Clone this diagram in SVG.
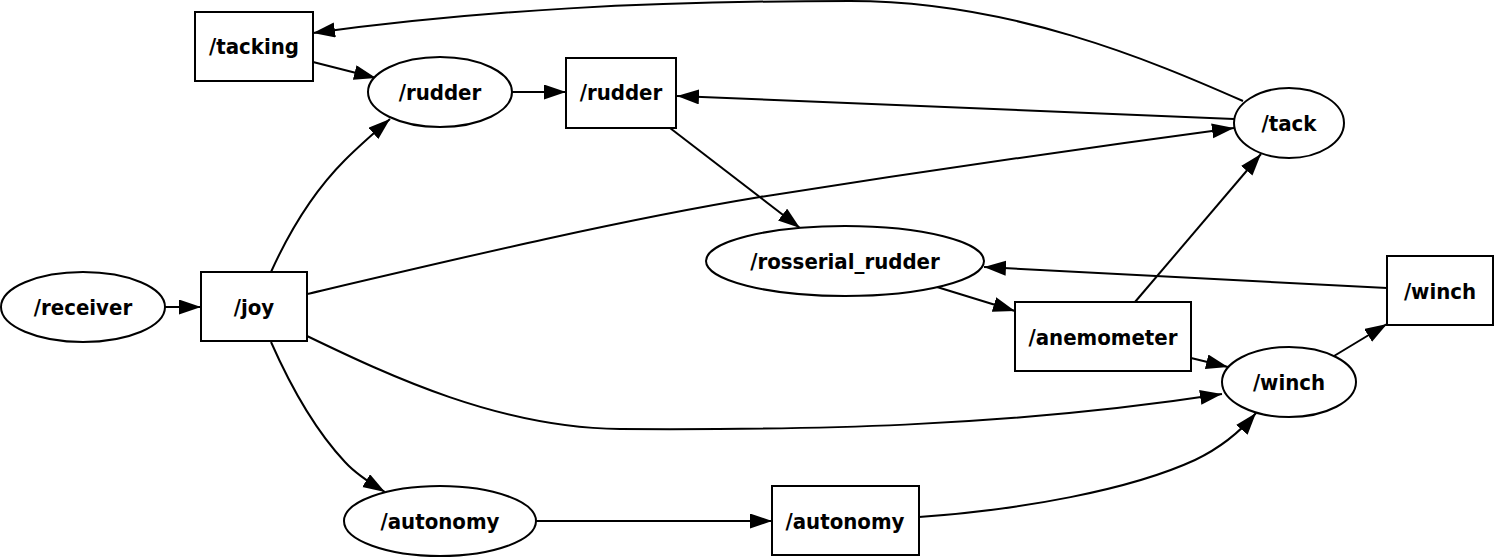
<svg xmlns="http://www.w3.org/2000/svg" width="1494" height="557" viewBox="0 0 1494 557">
<defs>
<marker id="ah" markerUnits="userSpaceOnUse" markerWidth="22" markerHeight="16" refX="22" refY="7.5" orient="auto"><path d="M0,0 L22,7.5 L0,15 z" fill="#000"/></marker>
<style>
.n{fill:#fff;stroke:#000;stroke-width:2}
.t{font-family:"DejaVu Sans Condensed","DejaVu Sans",sans-serif;font-stretch:condensed;font-weight:bold;font-size:22px;text-anchor:middle;fill:#000}
.e{fill:none;stroke:#000;stroke-width:2;marker-end:url(#ah)}
</style>
</defs>
<rect width="1494" height="557" fill="#fff"/>
<g id="edges">
<path class="e" d="M165,307 L201,307"/>
<path class="e" d="M1243,101 C1150,60 1010,1 850,1 C650,1 480,10 313,33"/>
<path class="e" d="M313,62 L376,78"/>
<path class="e" d="M511,92 L566,92"/>
<path class="e" d="M1234,119 L677,96"/>
<path class="e" d="M307,294 C460,258 620,220 760,197 C900,175 1100,146 1234,128"/>
<path class="e" d="M271,272 C290,230 315,190 345,160 C360,145 375,132 390,119"/>
<path class="e" d="M271,342 C290,385 315,430 345,462 C355,473 370,483 385,492"/>
<path class="e" d="M307,336 C390,376 500,428 620,429 C800,430 1000,428 1222,394"/>
<path class="e" d="M670,128 L800,228"/>
<path class="e" d="M1387,288 L984,267"/>
<path class="e" d="M937,287 L1015,311"/>
<path class="e" d="M1135,302 L1261,154"/>
<path class="e" d="M1191,358 L1228,367"/>
<path class="e" d="M1334,356 L1387,324"/>
<path class="e" d="M536,521 L772,521"/>
<path class="e" d="M919,517 C1020,510 1130,490 1195,460 C1220,448 1240,432 1256,413"/>
</g>
<g id="tacking_topic"><rect class="n" x="195" y="12" width="118" height="69"/><text class="t" x="254" y="54">/tacking</text></g>
<g id="rudder_node"><ellipse class="n" cx="440" cy="92" rx="72" ry="35"/><text class="t" x="440" y="100">/rudder</text></g>
<g id="rudder_topic"><rect class="n" x="566" y="58" width="110" height="70"/><text class="t" x="621" y="100">/rudder</text></g>
<g id="tack_node"><ellipse class="n" cx="1289" cy="123" rx="55" ry="35"/><text class="t" x="1289" y="131">/tack</text></g>
<g id="receiver_node"><ellipse class="n" cx="83" cy="307" rx="82" ry="35"/><text class="t" x="83" y="315">/receiver</text></g>
<g id="joy_topic"><rect class="n" x="201" y="272" width="106" height="69"/><text class="t" x="254" y="315">/joy</text></g>
<g id="rosserial_rudder_node"><ellipse class="n" cx="845" cy="261" rx="139" ry="35"/><text class="t" x="845" y="269">/rosserial_rudder</text></g>
<g id="anemometer_topic"><rect class="n" x="1015" y="302" width="176" height="69"/><text class="t" x="1103" y="345">/anemometer</text></g>
<g id="winch_node"><ellipse class="n" cx="1289" cy="382" rx="67" ry="35"/><text class="t" x="1289" y="390">/winch</text></g>
<g id="winch_topic"><rect class="n" x="1387" y="256" width="106" height="69"/><text class="t" x="1440" y="299">/winch</text></g>
<g id="autonomy_node"><ellipse class="n" cx="440" cy="521" rx="96" ry="35"/><text class="t" x="440" y="529">/autonomy</text></g>
<g id="autonomy_topic"><rect class="n" x="772" y="486" width="147" height="69"/><text class="t" x="845" y="529">/autonomy</text></g>
</svg>
